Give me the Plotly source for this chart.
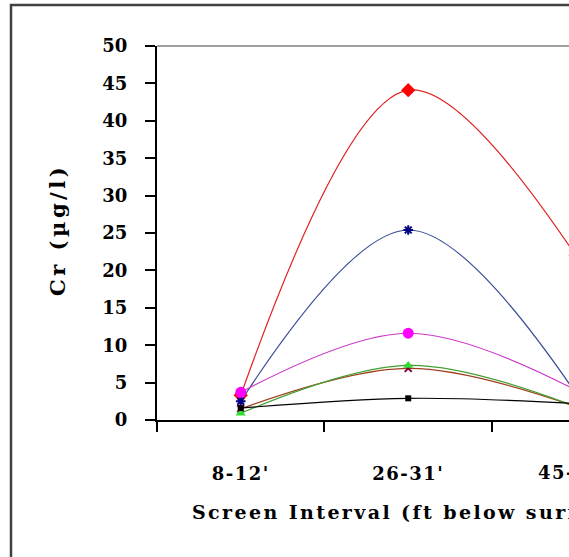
import plotly.graph_objects as go

# ---- data ----
categories = ["8-12'", "26-31'", "45-50'"]
red_vals = [3.3, 44.1, 22.0]
blue_vals = [2.5, 25.4, 3.6]
magenta_vals = [3.7, 11.6, 4.0]
green_vals = [0.9, 7.3, 1.8]
brown_vals = [1.5, 6.9, 1.8]
black_vals = [1.6, 2.9, 2.2]
y_ticks = [0, 5, 10, 15, 20, 25, 30, 35, 40, 45, 50]

x_idx = list(range(len(categories)))

W, H = 569, 557
ML, MR, MT, MB = 157, 0, 46, 137
PW = W - ML - MR
PH = H - MT - MB

def px_x(p):
    return (p - ML) / PW

def px_y(p):
    return (H - MB - p) / PH

FONT = "DejaVu Serif"

def spaced(t, sp):
    return f'<span style="letter-spacing:{sp}px">{t}</span>'

series = [
    (red_vals, "#E02020", dict(symbol="diamond", size=11, color="#FF0000")),
    (blue_vals, "#3A4E96", dict(symbol="asterisk-open", size=8, color="#000080", line=dict(width=2, color="#000080"))),
    (brown_vals, "#A04020", dict(symbol="x-thin-open", size=7, color="#800040", line=dict(width=2, color="#800040"))),
    (magenta_vals, "#C838C8", dict(symbol="circle", size=11, color="#FF00FF")),
    (green_vals, "#40A030", dict(symbol="triangle-up", size=9, color="#33DD33")),
    (black_vals, "#000000", dict(symbol="square", size=6, color="#000000")),
]

fig = go.Figure()
for vals, lc, mk in series:
    fig.add_trace(go.Scatter(
        x=x_idx, y=vals, mode="lines+markers",
        line=dict(color=lc, width=1.2, shape="spline", smoothing=1.0),
        marker=mk, showlegend=False, cliponaxis=True,
    ))

fig.update_layout(
    width=W, height=H,
    margin=dict(l=ML, r=MR, t=MT, b=MB),
    paper_bgcolor="white", plot_bgcolor="white",
    showlegend=False,
    xaxis=dict(
        range=[-0.5, 1.96], showgrid=False, zeroline=False,
        showline=True, linecolor="black", linewidth=2,
        tickmode="array", tickvals=x_idx,
        ticktext=[spaced(c, 1.5) for c in categories],
        ticks="", ticklabelstandoff=36,
        tickfont=dict(family=FONT, size=18, color="black", weight="bold"),
        minor=dict(tickmode="array", tickvals=[-0.5, 0.5, 1.5], ticks="outside",
                   ticklen=10, tickwidth=2, tickcolor="black"),
    ),
    yaxis=dict(
        range=[0, 50], showgrid=False, zeroline=False,
        showline=True, linecolor="black", linewidth=2,
        tickmode="array", tickvals=y_ticks,
        ticks="outside", ticklen=10, tickwidth=1.5, tickcolor="black",
        ticklabelstandoff=14,
        tickfont=dict(family=FONT, size=18, color="black", weight="bold"),
    ),
    shapes=[
        dict(type="line", xref="paper", yref="paper", x0=0, x1=1.05, y0=1, y1=1,
             line=dict(color="#808080", width=1.5)),
        dict(type="rect", xref="paper", yref="paper",
             x0=px_x(11), x1=1.3, y0=px_y(620), y1=px_y(5),
             line=dict(color="#404040", width=2.5), layer="below"),
    ],
    annotations=[
        dict(text=spaced("Cr (µg/l)", 3.5), xref="paper", yref="paper", x=px_x(57), y=px_y(230),
             textangle=-90, showarrow=False, xanchor="center", yanchor="middle",
             font=dict(family=FONT, size=21, color="black", weight="bold")),
        dict(text=spaced("Screen Interval (ft below surface)", 2.4), xref="paper", yref="paper",
             x=px_x(190), y=px_y(512), showarrow=False, xanchor="left", yanchor="middle",
             font=dict(family=FONT, size=19, color="black", weight="bold")),
        dict(text=spaced(categories[2], 1.5), xref="paper", yref="paper",
             x=px_x(574), y=px_y(473), showarrow=False, xanchor="center", yanchor="middle",
             font=dict(family=FONT, size=18, color="black", weight="bold")),
    ],
)

fig.write_html("out.html")
